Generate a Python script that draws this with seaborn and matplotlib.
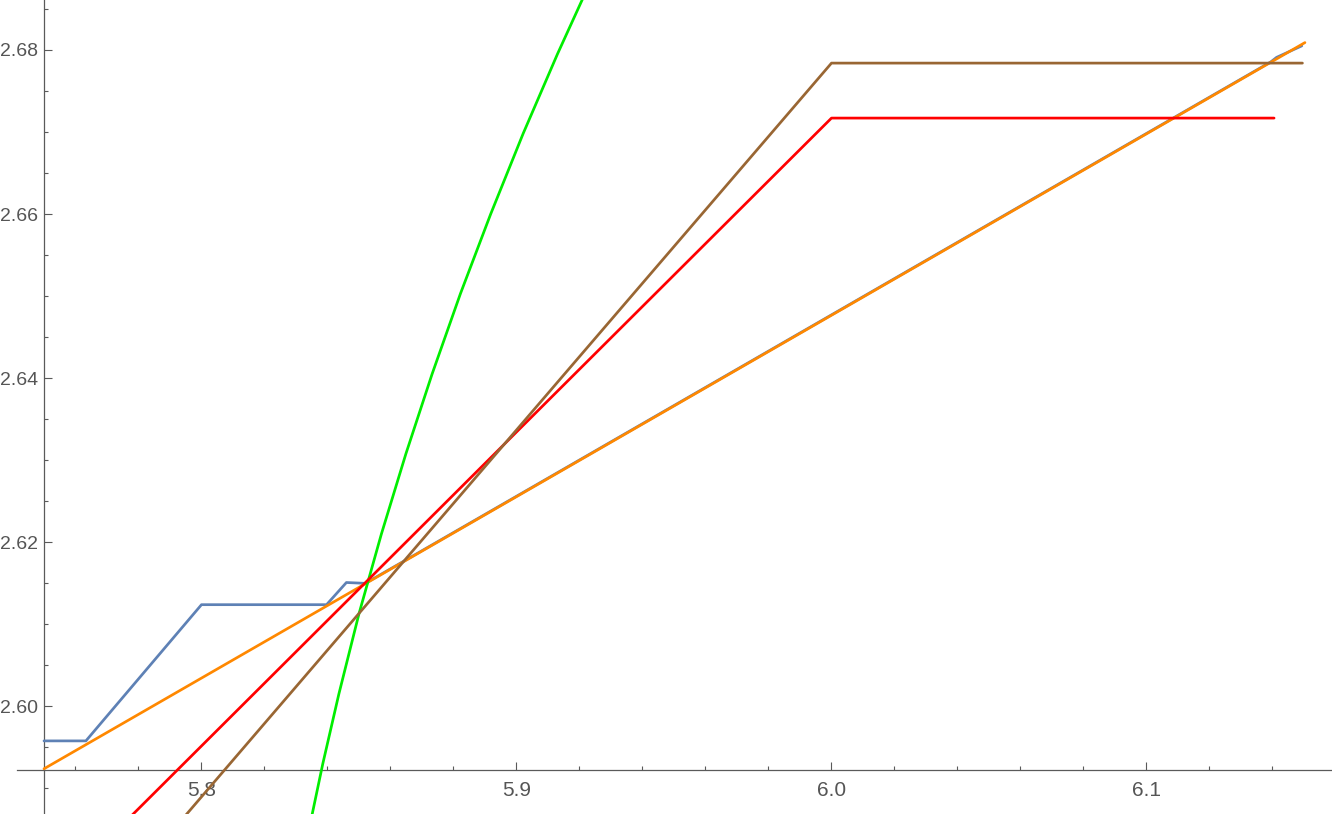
import numpy as np
import pandas as pd
import seaborn as sns
import matplotlib.pyplot as plt
from matplotlib.ticker import MultipleLocator, FormatStrFormatter

# values
blue_x = [5.75, 5.7633, 5.8, 5.8397, 5.846, 5.852, 6.1395, 6.1413, 6.1493]
blue_y = [2.5958, 2.5958, 2.6124, 2.6124, 2.6151, 2.6150, 2.67856, 2.6791, 2.6805]

orange_x = [5.75, 6.1503]
orange_y = [2.5924, 2.6809]

green_x = [5.8345, 5.8385, 5.8436, 5.8500, 5.8571, 5.8649, 5.8732, 5.8822, 5.8918,
           5.9021, 5.9130, 5.9231]
green_y = [2.5857, 2.5930, 2.6015, 2.6113, 2.6210, 2.6308, 2.6405, 2.6503, 2.6600,
           2.6698, 2.6795, 2.6880]

red_x = [5.776, 6.0, 6.1405]
red_y = [2.5860, 2.6717, 2.6717]

brown_x = [5.794, 6.0, 6.1495]
brown_y = [2.5863, 2.6784, 2.6784]

x_major = [5.8, 5.9, 6.0, 6.1]
y_major = [2.60, 2.62, 2.64, 2.66, 2.68]

colors = {"blue": "#5E81B5", "orange": "#FF8800", "green": "#00EE00",
          "red": "#FF0000", "brown": "#996633"}

frames = []
for name, xs, ys in [("blue", blue_x, blue_y), ("orange", orange_x, orange_y),
                     ("green", green_x, green_y), ("red", red_x, red_y),
                     ("brown", brown_x, brown_y)]:
    frames.append(pd.DataFrame({"x": xs, "y": ys, "series": name}))
df = pd.concat(frames, ignore_index=True)

sns.set_style("white")
plt.rcParams['font.family'] = ['Liberation Sans', 'DejaVu Sans']

fig, ax = plt.subplots(figsize=(13.32, 8.14), dpi=100)
ax.set_position([17 / 1332, 0, 1315 / 1332, 1])

for name in ["blue", "orange", "green", "red", "brown"]:
    sns.lineplot(data=df[df.series == name], x="x", y="y", color=colors[name],
                 sort=False, estimator=None, legend=False, lw=1.95, zorder=3, ax=ax)

ax.set_xlim(5.74143, 6.15889)
ax.set_ylim(2.58689, 2.68609)

# Mathematica style axes crossing at (5.75, 2.5923)
for s in ["top", "right"]:
    ax.spines[s].set_visible(False)
ax.spines["left"].set_position(("data", 5.75))
ax.spines["bottom"].set_position(("data", 2.5923))
for s in ["left", "bottom"]:
    ax.spines[s].set_color("#5a5a5a")
    ax.spines[s].set_linewidth(0.9)

ax.set_xticks(x_major)
ax.set_yticks(y_major)
ax.xaxis.set_major_formatter(FormatStrFormatter("%.1f"))
ax.yaxis.set_major_formatter(FormatStrFormatter("%.2f"))
ax.xaxis.set_minor_locator(MultipleLocator(0.02))
ax.yaxis.set_minor_locator(MultipleLocator(0.005))
ax.tick_params(which="both", direction="in", bottom=True, left=True,
               color="#5a5a5a", width=0.8, labelcolor="#555555")
ax.tick_params(axis="x", labelsize=15, pad=8)
ax.tick_params(axis="y", labelsize=14, pad=4)
ax.tick_params(which="major", length=5.5)
ax.tick_params(which="minor", length=3)
ax.set_xlabel("")
ax.set_ylabel("")

fig.savefig("out.png", dpi=100)
